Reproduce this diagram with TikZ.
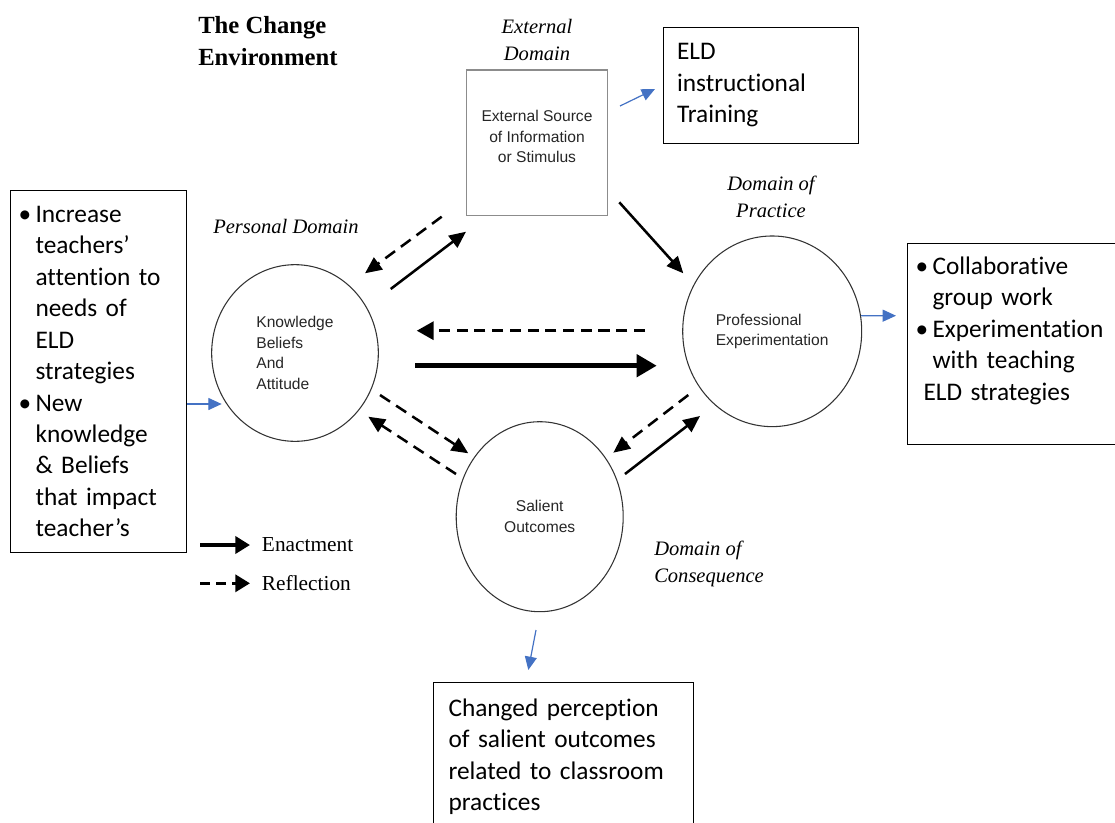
\documentclass[tikz,border=0pt]{standalone}
\usepackage{fontspec}
\setmainfont{Liberation Serif}
\setsansfont{Liberation Sans}
\newfontfamily\boxfont{Carlito}[Ligatures=NoCommon]
\usetikzlibrary{positioning, shapes.geometric, arrows.meta, calc}
\definecolor{linkblue}{RGB}{68,114,196}
\newcommand{\bitem}{\makebox[12.75pt][l]{\textbullet}}
\newcommand{\bindent}{\hspace*{12.75pt}}

\begin{document}
\begin{tikzpicture}[x=0.75pt, y=-0.75pt,
    dom/.style={font=\itshape\fontsize{15.4}{20.3}\selectfont, inner sep=0pt, align=center},
    zone/.style={ellipse, draw=black!80, line width=0.8pt, inner sep=0pt, text=black!85,
      font=\sffamily\fontsize{11.7}{15.5}\selectfont},
    notebox/.style={draw, line width=0.8pt, anchor=north west, align=left,
      font=\boxfont\fontsize{19}{23.6}\selectfont},
    enact/.style={line width=1.9pt, -{Triangle[length=12.5pt, width=11pt]}},
    reflect/.style={enact, dash pattern=on 9pt off 5.5pt},
    bigenact/.style={line width=3.4pt, -{Triangle[length=15pt, width=16.5pt]}},
    bigreflect/.style={line width=2.6pt, dash pattern=on 8.3pt off 5pt, -{Triangle[length=12.75pt, width=13.5pt]}},
    keyenact/.style={line width=3pt, -{Triangle[length=11pt, width=12.75pt]}},
    keyreflect/.style={keyenact, line width=2.5pt, dash pattern=on 7.5pt off 4.5pt},
    link/.style={draw=linkblue, line width=0.9pt, -{Triangle[length=10pt, width=9pt]}},
    legend/.style={font=\fontsize{16}{19}\selectfont, inner sep=0pt, anchor=west}]
  \useasboundingbox (0,0) rectangle (1115,822);

  % Titles and domain labels
  \node[font=\bfseries\fontsize{18.5}{24}\selectfont, align=left, inner sep=0pt, anchor=west] (title) at (198,41) {The Change\\Environment};
  \node[dom] (extlab) at (537,40) {External\\Domain};
  \node[dom] (perslab) at (286,226.7) {Personal Domain};
  \node[dom] (proflab) at (771,197) {Domain of\\Practice};
  \node[dom, align=left, anchor=west] (sallab) at (654,564) {Domain of\\Consequence};

  % Domains
  \node[draw=black!45, line width=1pt, minimum width=105.5pt, minimum height=109.3pt, align=center, text=black!85,
    font=\sffamily\fontsize{11.7}{15.5}\selectfont] (ext) at (537,142.85) {External Source\\of Information\\or Stimulus\\[-6pt]\mbox{}};
  \node[zone, minimum width=125pt, minimum height=132.5pt, align=left] (pers) at (295,353) {Knowledge\\Beliefs\\And\\Attitude};
  \node[zone, minimum width=134.25pt, minimum height=143pt, align=left] (prof) at (772.2,331.3) {Professional\\Experimentation};
  \node[zone, minimum width=125.25pt, minimum height=142.5pt, align=center] (sal) at (539.7,516.7) {Salient\\Outcomes};

  % Notes
  \node[notebox, inner xsep=6pt, text width=120pt, minimum height=271.5pt] (needs) at (10,190)
    {\bitem Increase\\ \bindent teachers’\\ \bindent attention to\\ \bindent needs of\\ \bindent ELD\\ \bindent strategies\\
     \bitem New\\ \bindent knowledge\\ \bindent \& Beliefs\\ \bindent that impact\\ \bindent teacher’s};
  \node[notebox, inner xsep=10.5pt, text width=125.9pt, minimum height=86.4pt] (eld) at (662.5,27.3) {ELD\\instructional\\Training};
  \node[notebox, inner xsep=6pt, text width=159pt, minimum height=150.75pt] (practice) at (907,243)
    {\bitem Collaborative\\ \bindent group work\\ \bitem Experimentation\\ \bindent with teaching\\ \hspace*{6pt}ELD strategies\\ \mbox{}};
  \node[notebox, inner xsep=11pt, inner ysep=12.5pt, text width=172.5pt] (percept) at (433.3,681.7)
    {Changed perception\\of salient outcomes\\related to classroom\\practices\\ \mbox{}\\ \mbox{}};

  % Arrow ends
  \coordinate (pe-a) at (390.7,289);   \coordinate (pe-b) at (466,231.7);
  \coordinate (ep-a) at (441.7,216.7); \coordinate (ep-b) at (365,273.3);
  \coordinate (ex-a) at (619.3,202.3); \coordinate (ex-b) at (683.3,273.3);
  \coordinate (xp-a) at (645,330.7);   \coordinate (xp-b) at (416.7,330.7);
  \coordinate (px-a) at (415,365.7);   \coordinate (px-b) at (656.7,365.7);
  \coordinate (ps-a) at (380,395);     \coordinate (ps-b) at (468.3,453.3);
  \coordinate (sp-a) at (456,474);     \coordinate (sp-b) at (368.3,416.7);
  \coordinate (xs-a) at (688.3,395);   \coordinate (xs-b) at (613.3,452.7);
  \coordinate (sx-a) at (625,474);     \coordinate (sx-b) at (700,416);

  % Enactment and reflection
  \draw[enact] (pe-a) -- (pe-b);
  \draw[reflect] (ep-a) -- (ep-b);
  \draw[enact] (ex-a) -- (ex-b);
  \draw[bigreflect] (xp-a) -- (xp-b);
  \draw[bigenact] (px-a) -- (px-b);
  \draw[reflect] (ps-a) -- (ps-b);
  \draw[reflect] (sp-a) -- (sp-b);
  \draw[reflect] (xs-a) -- (xs-b);
  \draw[enact] (sx-a) -- (sx-b);

  % Links to the notes
  \coordinate (lk1-a) at (620,106); \coordinate (lk1-b) at (655,89);
  \coordinate (lk2-b) at (221.7,404);
  \coordinate (lk3-b) at (896,315.7);
  \coordinate (lk4-a) at (536,630); \coordinate (lk4-b) at (528.3,670);
  \draw[link] (lk1-a) -- (lk1-b);
  \draw[link] (needs.east |- lk2-b) -- (lk2-b);
  \draw[link] (prof.10) -- (lk3-b);
  \draw[link] (lk4-a) -- (lk4-b);

  % Legend
  \foreach \y/\s/\t in {545/keyenact/Enactment, 583.3/keyreflect/Reflection} {
    \node[legend] (key-\s) at (261.7,\y) {\t};
    \draw[\s] ($(key-\s.west)+(-61.7,0)$) -- ($(key-\s.west)+(-11.7,0)$);
  }
\end{tikzpicture}
\end{document}
